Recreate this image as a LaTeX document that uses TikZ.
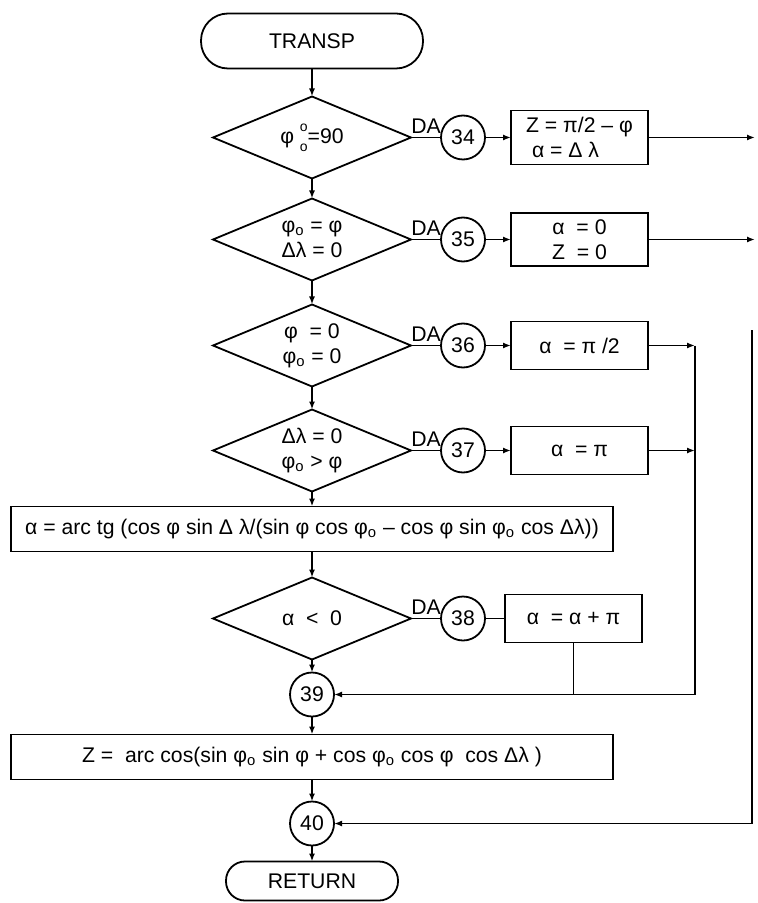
\documentclass[tikz,border=0pt]{standalone}
\usepackage{fontspec}
\setmainfont{Liberation Sans}
\usetikzlibrary{arrows.meta,positioning,shapes.geometric}
\newcommand{\fo}{φ\textsubscript{o}}

\begin{document}
\begin{tikzpicture}[x=0.5pt,y=-0.5pt,line width=0.9pt,>={Latex[length=4pt,width=3pt]},every node/.style={font=\fontsize{10.6}{12.5}\selectfont,outer sep=0pt},term/.style={draw,minimum width=86pt,minimum height=19.5pt,rounded corners=9.5pt},test/.style={draw,diamond,aspect=2.4,inner sep=0pt,minimum width=99pt,minimum height=41pt,align=center},conn/.style={draw,circle,inner sep=0pt,minimum size=22pt},box/.style={draw,align=center,minimum width=68.5pt,minimum height=24pt},wide/.style={draw,minimum width=301pt,minimum height=22.5pt}]
\useasboundingbox (0,0) rectangle (757,903);
\node[term,minimum width=111pt,minimum height=27.5pt,rounded corners=13.5pt] (transp) at (312,41) {TRANSP};
\node[test,below=14pt of transp] (t1) {φ\ \rlap{\raisebox{1.1ex}{\scriptsize o}}\raisebox{-0.7ex}{\scriptsize o}=90};
\node[test,below=10pt of t1] (t2) {\fo{} = φ\\Δλ = 0};
\node[test,below=12pt of t2] (t3) {φ \ = 0\\\fo{} = 0};
\node[test,below=11.5pt of t3] (t4) {Δλ = 0\\\fo{} > φ};
\node[wide,below=7.5pt of t4] (alfa) {α = arc tg (cos φ sin Δ λ/(sin φ cos \fo{} -- cos φ sin \fo{} cos Δλ))};
\node[test,below=13pt of alfa] (t5) {α \ < \ 0};
\node[conn,below=6.5pt of t5] (c39) {39};
\node[wide,below=9pt of c39] (zet) {Z = \ arc cos(sin \fo{} sin φ + cos \fo{} cos φ \ cos Δλ )};
\node[conn,below=11pt of zet] (c40) {40};
\node[term,below=8pt of c40] (ret) {RETURN};
% yes branches
\node[conn,right=15pt of t1] (c34) {34};
\node[box,right=13pt of c34,align=left] (b34) {Z = π/2 -- φ\\\ α = Δ λ};
\node[conn,right=15pt of t2] (c35) {35};
\node[box,right=13pt of c35] (b35) {α \ = 0\\Z \ = 0};
\node[conn,right=15pt of t3] (c36) {36};
\node[box,right=13pt of c36] (b36) {α \ = π /2};
\node[conn,right=15pt of t4] (c37) {37};
\node[box,right=13pt of c37] (b37) {α \ = π};
\node[conn,right=15pt of t5] (c38) {38};
\node[box,right=10pt of c38] (b38) {α \ = α + π};
\coordinate (rail) at (695,0);
\coordinate (edge) at (755,0);
\coordinate (back) at (752,330);
% main flow
\draw[->] (transp) -- (t1);
\draw[->] (t1) -- (t2);
\draw[->] (t2) -- (t3);
\draw[->] (t3) -- (t4);
\draw[->] (t4) -- (alfa);
\draw[->] (alfa) -- (t5);
\draw[->] (t5) -- (c39);
\draw[->] (c39) -- (zet);
\draw[->] (zet) -- (c40);
\draw[->] (c40) -- (ret);
% DA exits
\draw (t1.east) -- node[above,inner sep=2pt]{DA} (c34);
\draw (t2.east) -- node[above,inner sep=2pt]{DA} (c35);
\draw (t3.east) -- node[above,inner sep=2pt]{DA} (c36);
\draw (t4.east) -- node[above,inner sep=2pt]{DA} (c37);
\draw (t5.east) -- node[above,inner sep=2pt]{DA} (c38);
\draw[->] (c34) -- (b34);
\draw[->] (c35) -- (b35);
\draw[->] (c36) -- (b36);
\draw[->] (c37) -- (b37);
\draw (c38) -- (b38);
\draw[->] (b34.east) -- (b34.east -| edge);
\draw[->] (b35.east) -- (b35.east -| edge);
\draw[->] (b36.east) -- (b36.east -| rail);
\draw[->] (b37.east) -- (b37.east -| rail);
\draw[->] (b36.east -| rail) |- (c39.east);
\draw (b38.south) -- (b38.south |- c39.east);
\draw[->] (back) |- (c40.east);
\end{tikzpicture}
\end{document}
